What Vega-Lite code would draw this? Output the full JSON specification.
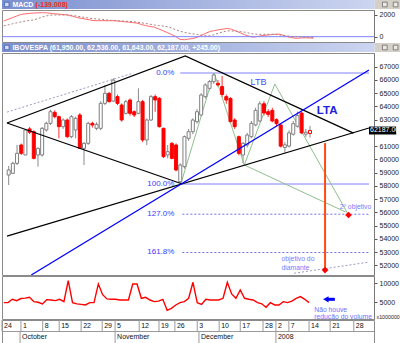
{
"$schema": "https://vega.github.io/schema/vega-lite/v6.json",
"padding": 0,
"spacing": 1,
"bounds": "flush",
"config": {"font": "Liberation Sans", "view": {"stroke": "#8a8a8a"}, "axis": {"labelFont": "Liberation Sans", "labelFontSize": 7, "labelColor": "#222222", "tickColor": "#555555", "domainColor": "#777777", "tickSize": 3, "labelPadding": 2, "grid": false}},
"datasets": {
"bars": [
{"t":0,"o":58820,"c":59200,"h":59500,"l":58064,"m":1440,"s":1000,"v":4912},
{"t":1,"o":58946,"c":59700,"h":59826,"l":58900,"m":1600,"s":1080,"v":4912},
{"t":2,"o":59700,"c":60456,"h":61086,"l":59575,"m":1750,"s":1180,"v":5789},
{"t":3,"o":61086,"c":60456,"h":61200,"l":60330,"m":1900,"s":1270,"v":5439},
{"t":4,"o":60330,"c":62218,"h":62300,"l":60330,"m":2050,"s":1360,"v":6000},
{"t":5,"o":62300,"c":62050,"h":62450,"l":61900,"m":2110,"s":1440,"v":6100},
{"t":6,"o":62092,"c":60078,"h":62200,"l":60000,"m":2150,"s":1510,"v":6316},
{"t":7,"o":60330,"c":60834,"h":60900,"l":59449,"m":2180,"s":1540,"v":5175},
{"t":8,"o":60330,"c":62344,"h":62450,"l":60200,"m":2200,"s":1680,"v":5000},
{"t":9,"o":62218,"c":62722,"h":62848,"l":62100,"m":2210,"s":1820,"v":4561},
{"t":10,"o":62722,"c":63603,"h":63750,"l":62600,"m":2200,"s":1920,"v":5700},
{"t":11,"o":63553,"c":63226,"h":63700,"l":63100,"m":2150,"s":1990,"v":5600},
{"t":12,"o":63226,"c":62470,"h":63300,"l":61589,"m":2100,"s":2000,"v":5439},
{"t":13,"o":62470,"c":62974,"h":63100,"l":62300,"m":2070,"s":2000,"v":5789},
{"t":14,"o":62974,"c":61715,"h":63100,"l":61600,"m":2030,"s":2000,"v":5175},
{"t":15,"o":61715,"c":63226,"h":63350,"l":61600,"m":2000,"s":2000,"v":10700},
{"t":16,"o":62218,"c":63100,"h":63226,"l":61589,"m":1880,"s":1960,"v":4912},
{"t":17,"o":63352,"c":60834,"h":63500,"l":60800,"m":1770,"s":1900,"v":4600},
{"t":18,"o":60834,"c":61212,"h":61300,"l":59575,"m":1700,"s":1830,"v":4450},
{"t":19,"o":61212,"c":62722,"h":62848,"l":61100,"m":1620,"s":1770,"v":4298},
{"t":20,"o":62722,"c":62596,"h":62848,"l":62400,"m":1550,"s":1700,"v":4912},
{"t":21,"o":62344,"c":62646,"h":62800,"l":62200,"m":1480,"s":1660,"v":4912},
{"t":22,"o":62344,"c":64233,"h":64400,"l":62200,"m":1475,"s":1620,"v":9824},
{"t":23,"o":64233,"c":64988,"h":65618,"l":64100,"m":1480,"s":1590,"v":7000},
{"t":24,"o":64989,"c":64359,"h":65100,"l":64300,"m":1470,"s":1540,"v":5900},
{"t":25,"o":64400,"c":65990,"h":66120,"l":64350,"m":1475,"s":1500,"v":5789},
{"t":26,"o":64737,"c":64233,"h":64900,"l":64100,"m":1470,"s":1470,"v":5789},
{"t":27,"o":64107,"c":62974,"h":64233,"l":62848,"m":1420,"s":1450,"v":5614},
{"t":28,"o":63478,"c":64359,"h":64500,"l":63400,"m":1380,"s":1430,"v":5614},
{"t":29,"o":64485,"c":63478,"h":64600,"l":63300,"m":1340,"s":1410,"v":5614},
{"t":30,"o":63600,"c":63350,"h":63700,"l":63200,"m":1300,"s":1390,"v":9824},
{"t":31,"o":63478,"c":64359,"h":65366,"l":63400,"m":1250,"s":1340,"v":9824},
{"t":32,"o":64359,"c":61463,"h":64500,"l":61300,"m":1130,"s":1280,"v":6052},
{"t":33,"o":61463,"c":62974,"h":63100,"l":61086,"m":1020,"s":1220,"v":6300},
{"t":34,"o":62974,"c":64737,"h":64863,"l":62900,"m":940,"s":1150,"v":5600},
{"t":35,"o":64737,"c":64485,"h":64900,"l":63600,"m":880,"s":1080,"v":5175},
{"t":36,"o":64611,"c":62470,"h":64700,"l":62400,"m":720,"s":1030,"v":5300},
{"t":37,"o":62344,"c":60204,"h":62400,"l":60100,"m":560,"s":980,"v":5789},
{"t":38,"o":60330,"c":60582,"h":61086,"l":60078,"m":380,"s":930,"v":2900},
{"t":39,"o":61212,"c":60078,"h":61300,"l":60000,"m":200,"s":800,"v":3400},
{"t":40,"o":61086,"c":59197,"h":61212,"l":59100,"m":20,"s":640,"v":4300},
{"t":41,"o":58316,"c":59575,"h":59700,"l":58140,"m":-250,"s":500,"v":4912},
{"t":42,"o":59449,"c":61715,"h":61800,"l":59300,"m":-280,"s":400,"v":5175},
{"t":43,"o":61589,"c":62092,"h":62300,"l":61400,"m":-220,"s":320,"v":6052},
{"t":44,"o":62092,"c":62974,"h":63100,"l":61900,"m":-170,"s":260,"v":10262},
{"t":45,"o":62848,"c":63600,"h":63800,"l":62700,"m":-50,"s":200,"v":4912},
{"t":46,"o":63352,"c":64863,"h":65000,"l":63226,"m":130,"s":140,"v":4450},
{"t":47,"o":64737,"c":65618,"h":65744,"l":64600,"m":320,"s":90,"v":5800},
{"t":48,"o":65366,"c":65870,"h":66000,"l":65200,"m":480,"s":80,"v":5614},
{"t":49,"o":65870,"c":66380,"h":66520,"l":65700,"m":560,"s":200,"v":5614},
{"t":50,"o":65744,"c":65618,"h":66000,"l":65500,"m":640,"s":330,"v":5614},
{"t":51,"o":65500,"c":64900,"h":66300,"l":64700,"m":700,"s":450,"v":6052},
{"t":52,"o":64737,"c":64485,"h":64900,"l":64200,"m":760,"s":540,"v":10262},
{"t":53,"o":64600,"c":62848,"h":64700,"l":62700,"m":680,"s":530,"v":7200},
{"t":54,"o":62974,"c":62470,"h":63100,"l":62300,"m":520,"s":500,"v":6052},
{"t":55,"o":61715,"c":60456,"h":61800,"l":60300,"m":360,"s":470,"v":8245},
{"t":56,"o":60330,"c":61212,"h":61300,"l":59700,"m":180,"s":420,"v":6052},
{"t":57,"o":61086,"c":61841,"h":62000,"l":60900,"m":50,"s":340,"v":5800},
{"t":58,"o":61715,"c":62722,"h":62900,"l":61600,"m":-40,"s":250,"v":5614},
{"t":59,"o":62600,"c":63700,"h":63900,"l":62500,"m":20,"s":220,"v":4900},
{"t":60,"o":62900,"c":64200,"h":64400,"l":62800,"m":100,"s":220,"v":4600},
{"t":61,"o":64200,"c":63500,"h":64400,"l":63300,"m":140,"s":220,"v":3700},
{"t":62,"o":63600,"c":63400,"h":63800,"l":63200,"m":180,"s":220,"v":4900},
{"t":63,"o":63700,"c":62900,"h":63900,"l":62800,"m":220,"s":220,"v":4300},
{"t":64,"o":63000,"c":62700,"h":63100,"l":62500,"m":240,"s":170,"v":4298},
{"t":65,"o":62600,"c":61000,"h":62700,"l":60900,"m":130,"s":120,"v":5175},
{"t":66,"o":60900,"c":61100,"h":61300,"l":60500,"m":0,"s":70,"v":4912},
{"t":67,"o":61000,"c":62000,"h":62200,"l":60900,"m":-90,"s":20,"v":5300},
{"t":68,"o":61900,"c":62700,"h":62900,"l":61800,"m":-150,"s":0,"v":6052},
{"t":69,"o":62500,"c":63300,"h":63600,"l":62400,"m":-120,"s":-20,"v":6491},
{"t":70,"o":63500,"c":62000,"h":63600,"l":61900,"m":-100,"s":-40,"v":5789},
{"t":71,"o":61900,"c":62050,"h":62300,"l":61700,"m":-110,"s":-60,"v":4912},
{"t":72,"o":61950,"c":62187,"h":62536,"l":61643,"m":-139,"s":-80}
],
"guides": [
{"g":"black","seg":"a","t":-0.4,"p":62748},{"g":"black","seg":"a","t":42.2,"p":67808},{"g":"black","seg":"a","t":82.4,"p":61985},
{"g":"black","seg":"b","t":-0.4,"p":62748},{"g":"black","seg":"b","t":41.5,"p":58140},
{"g":"black","seg":"c","t":-0.4,"p":54207},{"g":"black","seg":"c","t":86.1,"p":62370},
{"g":"blue","seg":"lta","t":5.4,"p":51270},{"g":"blue","seg":"lta","t":86.1,"p":66750},
{"g":"dot","seg":"d1","t":-0.4,"p":63572},{"g":"dot","seg":"d1","t":29.8,"p":66520},
{"g":"dot","seg":"d2","t":68.2,"p":51400},{"g":"dot","seg":"d2","t":86.1,"p":52240},
{"g":"fib","seg":"f0","t":41,"p":66524},{"g":"fib","seg":"f0","t":86.1,"p":66524},
{"g":"fib","seg":"f100","t":41.5,"p":58140},{"g":"fib","seg":"f100","t":86.1,"p":58140},
{"g":"fibd","seg":"f127","t":41.5,"p":55860},{"g":"fibd","seg":"f127","t":86.1,"p":55860},
{"g":"fibd","seg":"f161","t":41.5,"p":52967},{"g":"fibd","seg":"f161","t":86.1,"p":52967},
{"g":"green","seg":"z","t":41.2,"p":58216},{"g":"green","seg":"z","t":49.1,"p":66524},{"g":"green","seg":"z","t":56.3,"p":59576},{"g":"green","seg":"z","t":63.6,"p":65693},{"g":"green","seg":"z","t":81.2,"p":55800},
{"g":"green","seg":"z2","t":56.3,"p":59576},{"g":"green","seg":"z2","t":80.5,"p":56026},
{"g":"orange","seg":"v","t":75.6,"p":61230},{"g":"orange","seg":"v","t":75.6,"p":51640},
{"g":"dia","seg":"d","t":75.6,"p":51640},{"g":"dia","seg":"e","t":81.2,"p":55800}
],
"notes": [
{"k":"fib","t":39.6,"p":66524,"txt":"0.0%"},
{"k":"fib","t":39.6,"p":58140,"txt":"100.0%"},
{"k":"fib","t":39.6,"p":55860,"txt":"127.0%"},
{"k":"fib","t":39.6,"p":52967,"txt":"161.8%"},
{"k":"ltb","t":59.7,"p":65867,"txt":"LTB"},
{"k":"lta","t":76.1,"p":63654,"txt":"LTA"},
{"k":"small","t":79.1,"p":56426,"txt":"2º objetivo"},
{"k":"small","t":65.2,"p":52453,"txt":"objetivo do"},
{"k":"small","t":65.2,"p":51773,"txt":"diamante"},
{"k":"tag","t":86.1,"t2":92.6,"p":62187,"hi":62480,"lo":61880,"txt":"62187.00"}
],
"volnotes": [
{"k":"txt","t":72.2,"v":3000,"txt":"Não houve"},
{"k":"txt","t":72.2,"v":1250,"txt":"redução do volume"},
{"k":"head","t":74.9,"v":5790,"txt":""},
{"k":"shaft","t":75.3,"t2":77.0,"v":5790,"txt":""}
],
"days": [
{"t":-0.4,"lab":"24"},{"t":4.0,"lab":"1"},{"t":9.07,"lab":"8"},{"t":12.9,"lab":"15"},{"t":18.0,"lab":"22"},{"t":22.9,"lab":"29"},{"t":25.9,"lab":"5"},{"t":31.5,"lab":"12"},{"t":36.1,"lab":"19"},{"t":39.8,"lab":"26"},{"t":45.0,"lab":"3"},{"t":50.1,"lab":"10"},{"t":55.0,"lab":"17"},{"t":60.3,"lab":"28"},{"t":63.3,"lab":"2"},{"t":66.3,"lab":"7"},{"t":71.0,"lab":"14"},{"t":75.9,"lab":"21"},{"t":81.4,"lab":"28"}
],
"months": [
{"t":3.8,"lab":"October"},{"t":25.9,"lab":"November"},{"t":45.4,"lab":"December"},{"t":63.3,"lab":"2008"}
]
},
"vconcat": [
{
"width": 400, "height": 9, "view": {"stroke": null},
"data": {"values": [{"a": 0, "b": 0.932, "c": 1}]},
"layer": [
{"mark": {"type": "rect", "color": {"gradient": "linear", "stops": [{"offset": 0, "color": "#7b8fcf"}, {"offset": 1, "color": "#ccd5f0"}]}},
 "encoding": {"x": {"field": "a", "type": "quantitative", "scale": {"domain": [0, 1], "nice": false}, "axis": null}, "x2": {"field": "b"}}},
{"mark": {"type": "rect", "color": "#d4d0c8"},
 "encoding": {"x": {"field": "b", "type": "quantitative", "scale": {"domain": [0, 1], "nice": false}, "axis": null}, "x2": {"field": "c"}}},
{"mark": {"type": "point", "shape": "square", "size": 22, "filled": true, "fill": "#f4f4f4", "stroke": "#404040", "strokeWidth": 0.8},
 "encoding": {"x": {"datum": 0.957, "type": "quantitative", "scale": {"domain": [0, 1], "nice": false}, "axis": null}}},
{"mark": {"type": "point", "shape": "square", "size": 22, "filled": true, "fill": "#f4f4f4", "stroke": "#404040", "strokeWidth": 0.8},
 "encoding": {"x": {"datum": 0.984, "type": "quantitative", "scale": {"domain": [0, 1], "nice": false}, "axis": null}}},
{"mark": {"type": "point", "shape": "square", "size": 20, "filled": true, "fill": "#ffffff", "stroke": "#2a4aa8", "strokeWidth": 0.8},
 "encoding": {"x": {"datum": 0.012, "type": "quantitative", "scale": {"domain": [0, 1], "nice": false}, "axis": null}}},
{"mark": {"type": "text", "text": "MACD", "align": "left", "baseline": "middle", "fontSize": 7, "fontWeight": "bold", "color": "#ffffff"},
 "encoding": {"x": {"datum": 0.026, "type": "quantitative", "scale": {"domain": [0, 1], "nice": false}, "axis": null}}},
{"mark": {"type": "text", "text": "(-139.008)", "align": "left", "baseline": "middle", "fontSize": 7, "fontWeight": "bold", "color": "#ff2020"},
 "encoding": {"x": {"datum": 0.084, "type": "quantitative", "scale": {"domain": [0, 1], "nice": false}, "axis": null}}}
]
},
{
"width": 372, "height": 32,
"layer": [
{"data": {"name": "bars"}, "mark": {"type": "line", "color": "#ff6a6a", "strokeWidth": 1},
 "encoding": {"x": {"field": "t", "type": "quantitative", "scale": {"domain": [-0.4, 86.1], "nice": false, "zero": false}, "axis": null},
  "y": {"field": "m", "type": "quantitative", "scale": {"domain": [-490, 2460], "nice": false, "zero": false}, "axis": {"orient": "right", "values": [0, 1000, 2000], "format": "d", "title": null}}}},
{"data": {"values": [{}]}, "mark": {"type": "rule", "color": "#8080ff", "strokeWidth": 1},
 "encoding": {"y": {"datum": 0, "type": "quantitative"}}},
{"data": {"name": "bars"}, "mark": {"type": "line", "color": "#b08080", "strokeWidth": 1, "strokeDash": [2, 2]},
 "encoding": {"x": {"field": "t", "type": "quantitative"},
  "y": {"field": "s", "type": "quantitative"}}}
]
},
{
"width": 400, "height": 9, "view": {"stroke": null},
"data": {"values": [{"a": 0, "b": 0.932, "c": 1}]},
"layer": [
{"mark": {"type": "rect", "color": {"gradient": "linear", "stops": [{"offset": 0, "color": "#7b8fcf"}, {"offset": 1, "color": "#ccd5f0"}]}},
 "encoding": {"x": {"field": "a", "type": "quantitative", "scale": {"domain": [0, 1], "nice": false}, "axis": null}, "x2": {"field": "b"}}},
{"mark": {"type": "rect", "color": "#d4d0c8"},
 "encoding": {"x": {"field": "b", "type": "quantitative", "scale": {"domain": [0, 1], "nice": false}, "axis": null}, "x2": {"field": "c"}}},
{"mark": {"type": "point", "shape": "square", "size": 22, "filled": true, "fill": "#f4f4f4", "stroke": "#404040", "strokeWidth": 0.8},
 "encoding": {"x": {"datum": 0.957, "type": "quantitative", "scale": {"domain": [0, 1], "nice": false}, "axis": null}}},
{"mark": {"type": "point", "shape": "square", "size": 22, "filled": true, "fill": "#f4f4f4", "stroke": "#404040", "strokeWidth": 0.8},
 "encoding": {"x": {"datum": 0.984, "type": "quantitative", "scale": {"domain": [0, 1], "nice": false}, "axis": null}}},
{"mark": {"type": "point", "shape": "square", "size": 20, "filled": true, "fill": "#ffffff", "stroke": "#2a4aa8", "strokeWidth": 0.8},
 "encoding": {"x": {"datum": 0.012, "type": "quantitative", "scale": {"domain": [0, 1], "nice": false}, "axis": null}}},
{"mark": {"type": "text", "text": "IBOVESPA (61,950.00, 62,536.00, 61,643.00, 62,187.00, +245.00)", "align": "left", "baseline": "middle", "fontSize": 7, "fontWeight": "bold", "color": "#ffffff"},
 "encoding": {"x": {"datum": 0.026, "type": "quantitative", "scale": {"domain": [0, 1], "nice": false}, "axis": null}}}
]
},
{
"width": 372, "height": 222,
"resolve": {"axis": {"y": "independent"}},
"layer": [
{"data": {"name": "bars"},
 "mark": {"type": "rule", "strokeWidth": 1},
 "encoding": {"x": {"field": "t", "type": "quantitative", "scale": {"domain": [-0.4, 86.1], "nice": false, "zero": false}, "axis": null},
  "y": {"field": "l", "type": "quantitative", "scale": {"domain": [51267, 68035], "nice": false, "zero": false}, "axis": {"orient": "right", "values": [52000,53000,54000,55000,56000,57000,58000,59000,60000,61000,63000,64000,65000,66000,67000], "format": "d", "title": null}},
  "y2": {"field": "h"},
  "color": {"condition": {"test": "datum.c >= datum.o", "value": "#8a8a8a"}, "value": "#ff3030"}}},
{"data": {"name": "guides"}, "transform": [{"filter": "datum.g == 'dot'"}],
 "mark": {"type": "line", "color": "#9a9ac8", "strokeWidth": 1, "strokeDash": [2, 2], "clip": true},
 "encoding": {"x": {"field": "t", "type": "quantitative", "axis": null},
  "y": {"field": "p", "type": "quantitative", "axis": null}, "detail": {"field": "seg"}}},
{"data": {"name": "guides"}, "transform": [{"filter": "datum.g == 'fib'"}],
 "mark": {"type": "line", "color": "#8080ff", "strokeWidth": 1, "clip": true},
 "encoding": {"x": {"field": "t", "type": "quantitative", "axis": null},
  "y": {"field": "p", "type": "quantitative", "axis": null}, "detail": {"field": "seg"}}},
{"data": {"name": "guides"}, "transform": [{"filter": "datum.g == 'fibd'"}],
 "mark": {"type": "line", "color": "#7070ff", "strokeWidth": 1, "strokeDash": [2, 2], "clip": true},
 "encoding": {"x": {"field": "t", "type": "quantitative", "axis": null},
  "y": {"field": "p", "type": "quantitative", "axis": null}, "detail": {"field": "seg"}}},
{"data": {"name": "guides"}, "transform": [{"filter": "datum.g == 'green'"}],
 "mark": {"type": "line", "color": "#8fbf8f", "strokeWidth": 1, "clip": true},
 "encoding": {"x": {"field": "t", "type": "quantitative", "axis": null},
  "y": {"field": "p", "type": "quantitative", "axis": null}, "detail": {"field": "seg"}}},
{"data": {"name": "bars"},
 "mark": {"type": "bar", "size": 3, "strokeWidth": 1},
 "encoding": {"x": {"field": "t", "type": "quantitative", "axis": null},
  "y": {"field": "o", "type": "quantitative", "axis": null},
  "y2": {"field": "c"},
  "fill": {"condition": {"test": "datum.c >= datum.o", "value": "#ffffff"}, "value": "#ff0000"},
  "stroke": {"condition": {"test": "datum.c >= datum.o && datum.t < 72", "value": "#7f7f7f"}, "value": "#ff0000"}}},
{"data": {"name": "guides"}, "transform": [{"filter": "datum.g == 'black'"}],
 "mark": {"type": "line", "color": "#000000", "strokeWidth": 1.3, "clip": true},
 "encoding": {"x": {"field": "t", "type": "quantitative", "axis": null},
  "y": {"field": "p", "type": "quantitative", "axis": null}, "detail": {"field": "seg"}}},
{"data": {"name": "guides"}, "transform": [{"filter": "datum.g == 'blue'"}],
 "mark": {"type": "line", "color": "#0000ff", "strokeWidth": 1.3, "clip": true},
 "encoding": {"x": {"field": "t", "type": "quantitative", "axis": null},
  "y": {"field": "p", "type": "quantitative", "axis": null}, "detail": {"field": "seg"}}},
{"data": {"name": "guides"}, "transform": [{"filter": "datum.g == 'orange'"}],
 "mark": {"type": "line", "color": "#ff4a10", "strokeWidth": 2, "clip": true},
 "encoding": {"x": {"field": "t", "type": "quantitative", "axis": null},
  "y": {"field": "p", "type": "quantitative", "axis": null}, "detail": {"field": "seg"}}},
{"data": {"name": "guides"}, "transform": [{"filter": "datum.g == 'dia'"}],
 "mark": {"type": "point", "shape": "diamond", "filled": true, "color": "#ff0000", "size": 45, "opacity": 1},
 "encoding": {"x": {"field": "t", "type": "quantitative", "axis": null},
  "y": {"field": "p", "type": "quantitative", "axis": null}}},
{"data": {"name": "notes"}, "transform": [{"filter": "datum.k == 'fib'"}],
 "mark": {"type": "text", "align": "right", "baseline": "middle", "fontSize": 8, "color": "#3a3aff"},
 "encoding": {"x": {"field": "t", "type": "quantitative", "axis": null},
  "y": {"field": "p", "type": "quantitative", "axis": null}, "text": {"field": "txt"}}},
{"data": {"name": "notes"}, "transform": [{"filter": "datum.k == 'ltb'"}],
 "mark": {"type": "text", "align": "center", "baseline": "middle", "fontSize": 9, "color": "#4a4aff"},
 "encoding": {"x": {"field": "t", "type": "quantitative", "axis": null},
  "y": {"field": "p", "type": "quantitative", "axis": null}, "text": {"field": "txt"}}},
{"data": {"name": "notes"}, "transform": [{"filter": "datum.k == 'lta'"}],
 "mark": {"type": "text", "align": "center", "baseline": "middle", "fontSize": 11.5, "fontWeight": "bold", "color": "#2222dd"},
 "encoding": {"x": {"field": "t", "type": "quantitative", "axis": null},
  "y": {"field": "p", "type": "quantitative", "axis": null}, "text": {"field": "txt"}}},
{"data": {"name": "notes"}, "transform": [{"filter": "datum.k == 'small'"}],
 "mark": {"type": "text", "align": "left", "baseline": "middle", "fontSize": 6.8, "color": "#7a7aff"},
 "encoding": {"x": {"field": "t", "type": "quantitative", "axis": null},
  "y": {"field": "p", "type": "quantitative", "axis": null}, "text": {"field": "txt"}}},
{"data": {"name": "notes"}, "transform": [{"filter": "datum.k == 'tag'"}],
 "mark": {"type": "rect", "color": "#000000"},
 "encoding": {"x": {"field": "t", "type": "quantitative", "axis": null},
  "x2": {"field": "t2"},
  "y": {"field": "hi", "type": "quantitative", "axis": null},
  "y2": {"field": "lo"}}},
{"data": {"name": "notes"}, "transform": [{"filter": "datum.k == 'tag'"}],
 "mark": {"type": "text", "align": "left", "baseline": "middle", "fontSize": 7, "color": "#ffffff", "dx": 1},
 "encoding": {"x": {"field": "t", "type": "quantitative", "axis": null},
  "y": {"field": "p", "type": "quantitative", "axis": null}, "text": {"field": "txt"}}}
]
},
{
"width": 372, "height": 43,
"encoding": {"x": {"field": "t", "type": "quantitative", "scale": {"domain": [-0.4, 86.1], "nice": false, "zero": false}, "axis": null},
  "y": {"field": "v", "type": "quantitative", "scale": {"domain": [608, 11920], "nice": false, "zero": false}, "axis": {"orient": "right", "values": [5000, 10000], "format": "d", "title": "x1000000", "titleAngle": 0, "titleFontSize": 5.3, "titleFontWeight": "normal", "titleColor": "#222222", "titleAlign": "left", "titleBaseline": "middle", "titleX": 2, "titleY": 40}}},
"layer": [
{"data": {"name": "bars"}, "mark": {"type": "line", "color": "#ff0000", "strokeWidth": 1.4}},
{"data": {"name": "volnotes"}, "transform": [{"filter": "datum.k == 'txt'"}],
 "mark": {"type": "text", "align": "left", "baseline": "middle", "fontSize": 6.8, "color": "#7070ff"},
 "encoding": {"text": {"field": "txt"}}},
{"data": {"name": "volnotes"}, "transform": [{"filter": "datum.k == 'shaft'"}],
 "mark": {"type": "rule", "color": "#0000ff", "strokeWidth": 3},
 "encoding": {"x2": {"field": "t2"}}},
{"data": {"name": "volnotes"}, "transform": [{"filter": "datum.k == 'head'"}],
 "mark": {"type": "point", "shape": "triangle-left", "filled": true, "color": "#0000ff", "size": 40, "opacity": 1}}
]
},
{
"width": 372, "height": 23,
"layer": [
{"data": {"values": [{}]}, "mark": {"type": "rule", "color": "#9a9a9a", "strokeWidth": 1},
 "encoding": {"y": {"datum": 1, "type": "quantitative", "scale": {"domain": [0, 2], "nice": false, "zero": false}, "axis": null}}},
{"data": {"name": "days"}, "mark": {"type": "rule", "color": "#9a9a9a", "strokeWidth": 1},
 "encoding": {"x": {"field": "t", "type": "quantitative", "scale": {"domain": [-0.4, 86.1], "nice": false, "zero": false}, "axis": null},
  "y": {"datum": 1, "type": "quantitative", "scale": {"domain": [0, 2], "nice": false, "zero": false}, "axis": null}, "y2": {"datum": 2}}},
{"data": {"name": "days"}, "mark": {"type": "text", "align": "left", "baseline": "middle", "dx": 2, "fontSize": 7, "color": "#111111"},
 "encoding": {"x": {"field": "t", "type": "quantitative", "scale": {"domain": [-0.4, 86.1], "nice": false, "zero": false}, "axis": null},
  "y": {"datum": 1.5, "type": "quantitative", "scale": {"domain": [0, 2], "nice": false, "zero": false}, "axis": null}, "text": {"field": "lab"}}},
{"data": {"name": "months"}, "mark": {"type": "rule", "color": "#9a9a9a", "strokeWidth": 1},
 "encoding": {"x": {"field": "t", "type": "quantitative", "scale": {"domain": [-0.4, 86.1], "nice": false, "zero": false}, "axis": null},
  "y": {"datum": 0, "type": "quantitative", "scale": {"domain": [0, 2], "nice": false, "zero": false}, "axis": null}, "y2": {"datum": 1}}},
{"data": {"name": "months"}, "mark": {"type": "text", "align": "left", "baseline": "middle", "dx": 2, "fontSize": 7, "color": "#111111"},
 "encoding": {"x": {"field": "t", "type": "quantitative", "scale": {"domain": [-0.4, 86.1], "nice": false, "zero": false}, "axis": null},
  "y": {"datum": 0.5, "type": "quantitative", "scale": {"domain": [0, 2], "nice": false, "zero": false}, "axis": null}, "text": {"field": "lab"}}}
]
}
]
}
